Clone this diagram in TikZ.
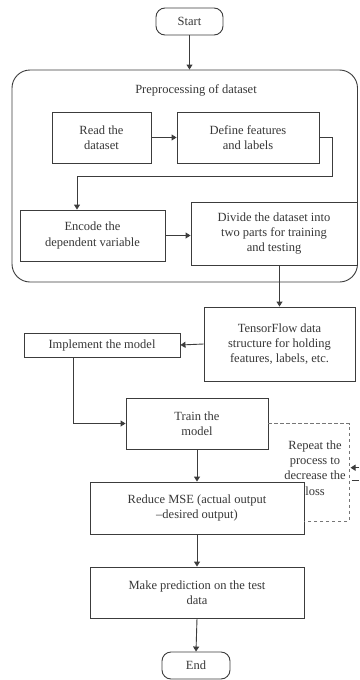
\documentclass[tikz,border=0pt]{standalone}
\usepackage{fontspec}
\setmainfont{Liberation Serif}
\usetikzlibrary{arrows.meta}
\definecolor{ln}{HTML}{3C3C3C}
\definecolor{tx}{HTML}{383838}
\begin{document}
\begin{tikzpicture}[x=1pt,y=-1pt,
  box/.style={draw=ln, line width=0.9pt, align=center, inner sep=0pt, text=tx,
    font=\fontsize{12.5}{15.3}\selectfont},
  term/.style={box, rounded corners=9pt},
  lbl/.style={align=center, inner sep=0pt, text=tx, font=\fontsize{12.5}{15.3}\selectfont},
  flow/.style={draw=ln, line width=0.9pt, -{Triangle[width=6pt,length=5pt]}},
  loop/.style={draw=ln!70, line width=0.8pt, dash pattern=on 3.5pt off 2.5pt}]
\useasboundingbox (0,0) rectangle (359,680);
\fill[white] (0,0) rectangle (359,680);
% container
\node[draw=ln, line width=0.9pt, rounded corners=18pt, minimum width=345.5pt, minimum height=212pt, inner sep=0pt] (prep) at (184.75,176) {};
\node[lbl] (title) at (196,90) {Preprocessing of dataset};
% nodes
\node[term, minimum width=67pt, minimum height=27pt] (start) at (189.5,21.5) {Start};
\node[box, minimum width=99pt, minimum height=51pt] (read) at (101.5,137.5) {Read the\\dataset};
\node[box, minimum width=142pt, minimum height=51pt] (define) at (248,137.5) {Define features\\and labels};
\node[box, minimum width=145pt, minimum height=51pt] (encode) at (92.5,235.5) {Encode the\\dependent variable};
\node[box, minimum width=166pt, minimum height=63pt] (divide) at (274,233.5) {Divide the dataset into\\two parts for training\\and testing};
\node[box, minimum width=151pt, minimum height=74pt] (tf) at (279.5,344) {TensorFlow data\\structure for holding\\features, labels, etc.};
\node[box, minimum width=156pt, minimum height=24pt] (impl) at (102,345) {Implement the model};
\node[box, minimum width=142pt, minimum height=51pt] (train) at (197,423.5) {Train the\\model};
\node[box, minimum width=214pt, minimum height=52pt] (reduce) at (197,508) {Reduce MSE (actual output\\--desired output)};
\node[box, minimum width=214pt, minimum height=51pt] (pred) at (197,592.5) {Make prediction on the test\\data};
\node[term, minimum width=68pt, minimum height=27pt] (end) at (196,665.5) {End};
\node[lbl] (rep) at (315,468) {Repeat the\\process to\\decrease the\\loss};
% connectors
\draw[flow] (start.south) -- (start.south |- prep.north);
\draw[flow] (read.east) -- (define.west);
\draw[flow] (define.east) -- ++(13,0) -- ++(0,38.5) -| ([xshift=-15.5pt]encode.north);
\draw[flow] (encode.east) -- (encode.east -| divide.west);
\draw[flow] (tf.north |- divide.south) -- (tf.north);
\draw[flow] (tf.west) -- (impl.east);
\draw[flow] ([xshift=-29pt]impl.south) |- (train.west);
\draw[flow] (train.south) -- (reduce.north);
\draw[flow] (reduce.south) -- (pred.north);
\draw[flow] (pred.south) -- (end.north);
% loop
\coordinate (lp1) at (349,423.5);
\coordinate (lp2) at (349,521);
\draw[loop] (train.east) -- (lp1) -- (lp2) -- (reduce.east |- lp2);
\coordinate (rin) at (359,467.7);
\coordinate (rtip) at (350.5,467.7);
\draw[flow] (rin) -- (rtip);
\coordinate (rb1) at (351.5,480.7);
\coordinate (rb2) at (359,480.7);
\draw[draw=ln, line width=1.2pt] (rb1) -- (rb2);
\end{tikzpicture}
\end{document}
